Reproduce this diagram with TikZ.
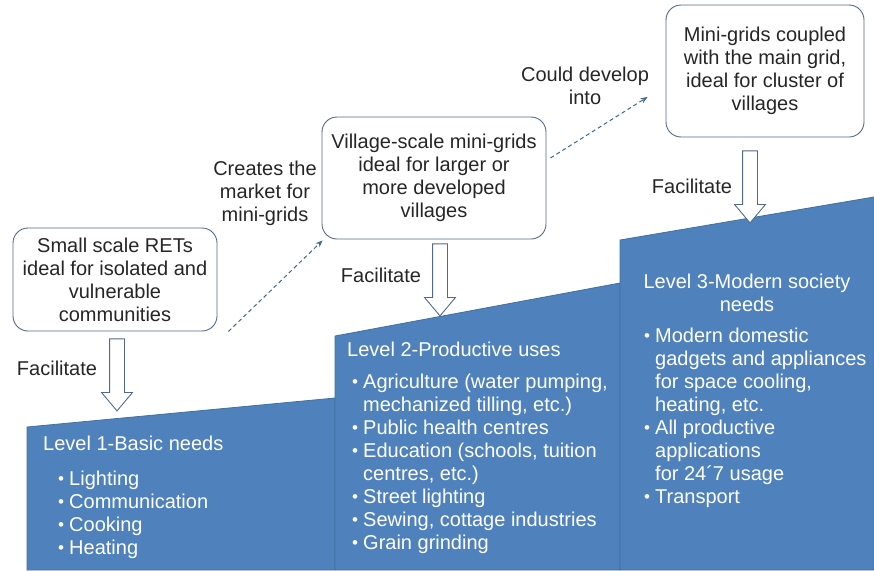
\documentclass[tikz,border=0pt]{standalone}
\usepackage{fontspec}
\setmainfont{Liberation Sans}
\usetikzlibrary{arrows.meta,shapes.arrows}

\definecolor{lvlblue}{HTML}{4F81BD}
\definecolor{lvledge}{HTML}{41719C}
\definecolor{boxedge}{HTML}{52698A}
\definecolor{dashblue}{HTML}{3C6797}
\definecolor{txtgrey}{HTML}{262626}

\newcommand{\itm}{\makebox[11pt][l]{\raisebox{0.5pt}{\fontsize{17}{17}\selectfont\textbullet}}}
\newcommand{\cnt}{\hspace*{11pt}}

\begin{document}
\begin{tikzpicture}[x=1pt, y=-1pt,
  every node/.style={font=\fontsize{20}{23}\selectfont},
  rbox/.style={rectangle, rounded corners=15pt, draw=boxedge, line width=0.9pt,
    fill=white, text=txtgrey, align=center, inner sep=0pt},
  lbl/.style={text=txtgrey, align=center, inner sep=0pt},
  lvltext/.style={text=white, align=left, inner sep=0pt, anchor=north west},
  lvlblock/.style={fill=lvlblue, draw=lvledge, line width=0.8pt},
  facil/.style={single arrow, draw=boxedge, fill=white, line width=0.9pt,
    rotate=-90, minimum height=72pt, inner sep=7pt,
    single arrow head extend=8pt, single arrow tip angle=80,
    anchor=tail},
  dasharrow/.style={dashed, dash pattern=on 4pt off 3pt, draw=dashblue,
    line width=1pt, -{Stealth[length=7pt,width=5.5pt]}}]

\useasboundingbox (0,0) rectangle (874,570);

% level blocks
\draw[lvlblock] (27,427) -- (335,398) -- (335,570) -- (27,570) -- cycle;
\draw[lvlblock] (335,336) -- (620,283) -- (620,570) -- (335,570) -- cycle;
\draw[lvlblock] (620,240) -- (874,197) -- (874,570) -- (620,570) -- cycle;

% boxes
\node[rbox, minimum width=204pt, minimum height=103pt] (b1) at (115,279.5)
  {Small scale RETs\\ideal for isolated and\\vulnerable\\communities};
\node[rbox, minimum width=224pt, minimum height=122pt] (b2) at (434,178)
  {Village-scale mini-grids\\ideal for larger or\\more developed\\villages};
\node[rbox, minimum width=198pt, minimum height=132pt] (b3) at (765,71)
  {Mini-grids coupled\\with the main grid,\\ideal for cluster of\\villages};

% facilitate arrows
\node[facil] (f1) at ([xshift=2pt, yshift=-7pt]b1.south) {};
\node[facil] (f2) at ([xshift=6pt, yshift=-4pt]b2.south) {};
\node[facil] (f3) at ([xshift=-15pt, yshift=-13pt]b3.south) {};
\node[lbl] (fl1) at (57,368) {Facilitate};
\node[lbl] (fl2) at (381,275) {Facilitate};
\node[lbl] (fl3) at (692,186) {Facilitate};

% dashed arrows
\draw[dasharrow] ([xshift=11pt]b1.south east) -- ([xshift=1pt, yshift=-1pt]b2.south west);
\draw[dasharrow] ([xshift=4pt, yshift=20pt]b2.east) -- ([xshift=-18pt, yshift=-26pt]b3.west);
\node[lbl] (mkt) at (265,193) {Creates the\\market for\\mini-grids};
\node[lbl] (dev) at (585,86) {Could develop\\into};

% level texts
\node[lvltext, anchor=base west] (h1) at (43,450) {Level 1-Basic needs};
\node[lvltext] (i1) at (58,470.5) {\itm Lighting\\\itm Communication\\\itm Cooking\\\itm Heating};

\node[lvltext, anchor=base west] (h2) at (347,356) {Level 2-Productive uses};
\node[lvltext] (i2) at (352,373.5) {\itm Agriculture (water pumping,\\\cnt mechanized tilling, etc.)\\
  \itm Public health centres\\\itm Education (schools, tuition\\\cnt centres, etc.)\\
  \itm Street lighting\\\itm Sewing, cottage industries\\\itm Grain grinding};

\node[lvltext, align=center, anchor=north] (h3) at (747,273.5) {Level 3-Modern society\\needs};
\node[lvltext] (i3) at (644,327.5) {\itm Modern domestic\\\cnt gadgets and appliances\\
  \cnt for space cooling,\\\cnt heating, etc.\\\itm All productive\\\cnt applications\\
  \cnt for 24´7 usage\\\itm Transport};

\end{tikzpicture}
\end{document}
